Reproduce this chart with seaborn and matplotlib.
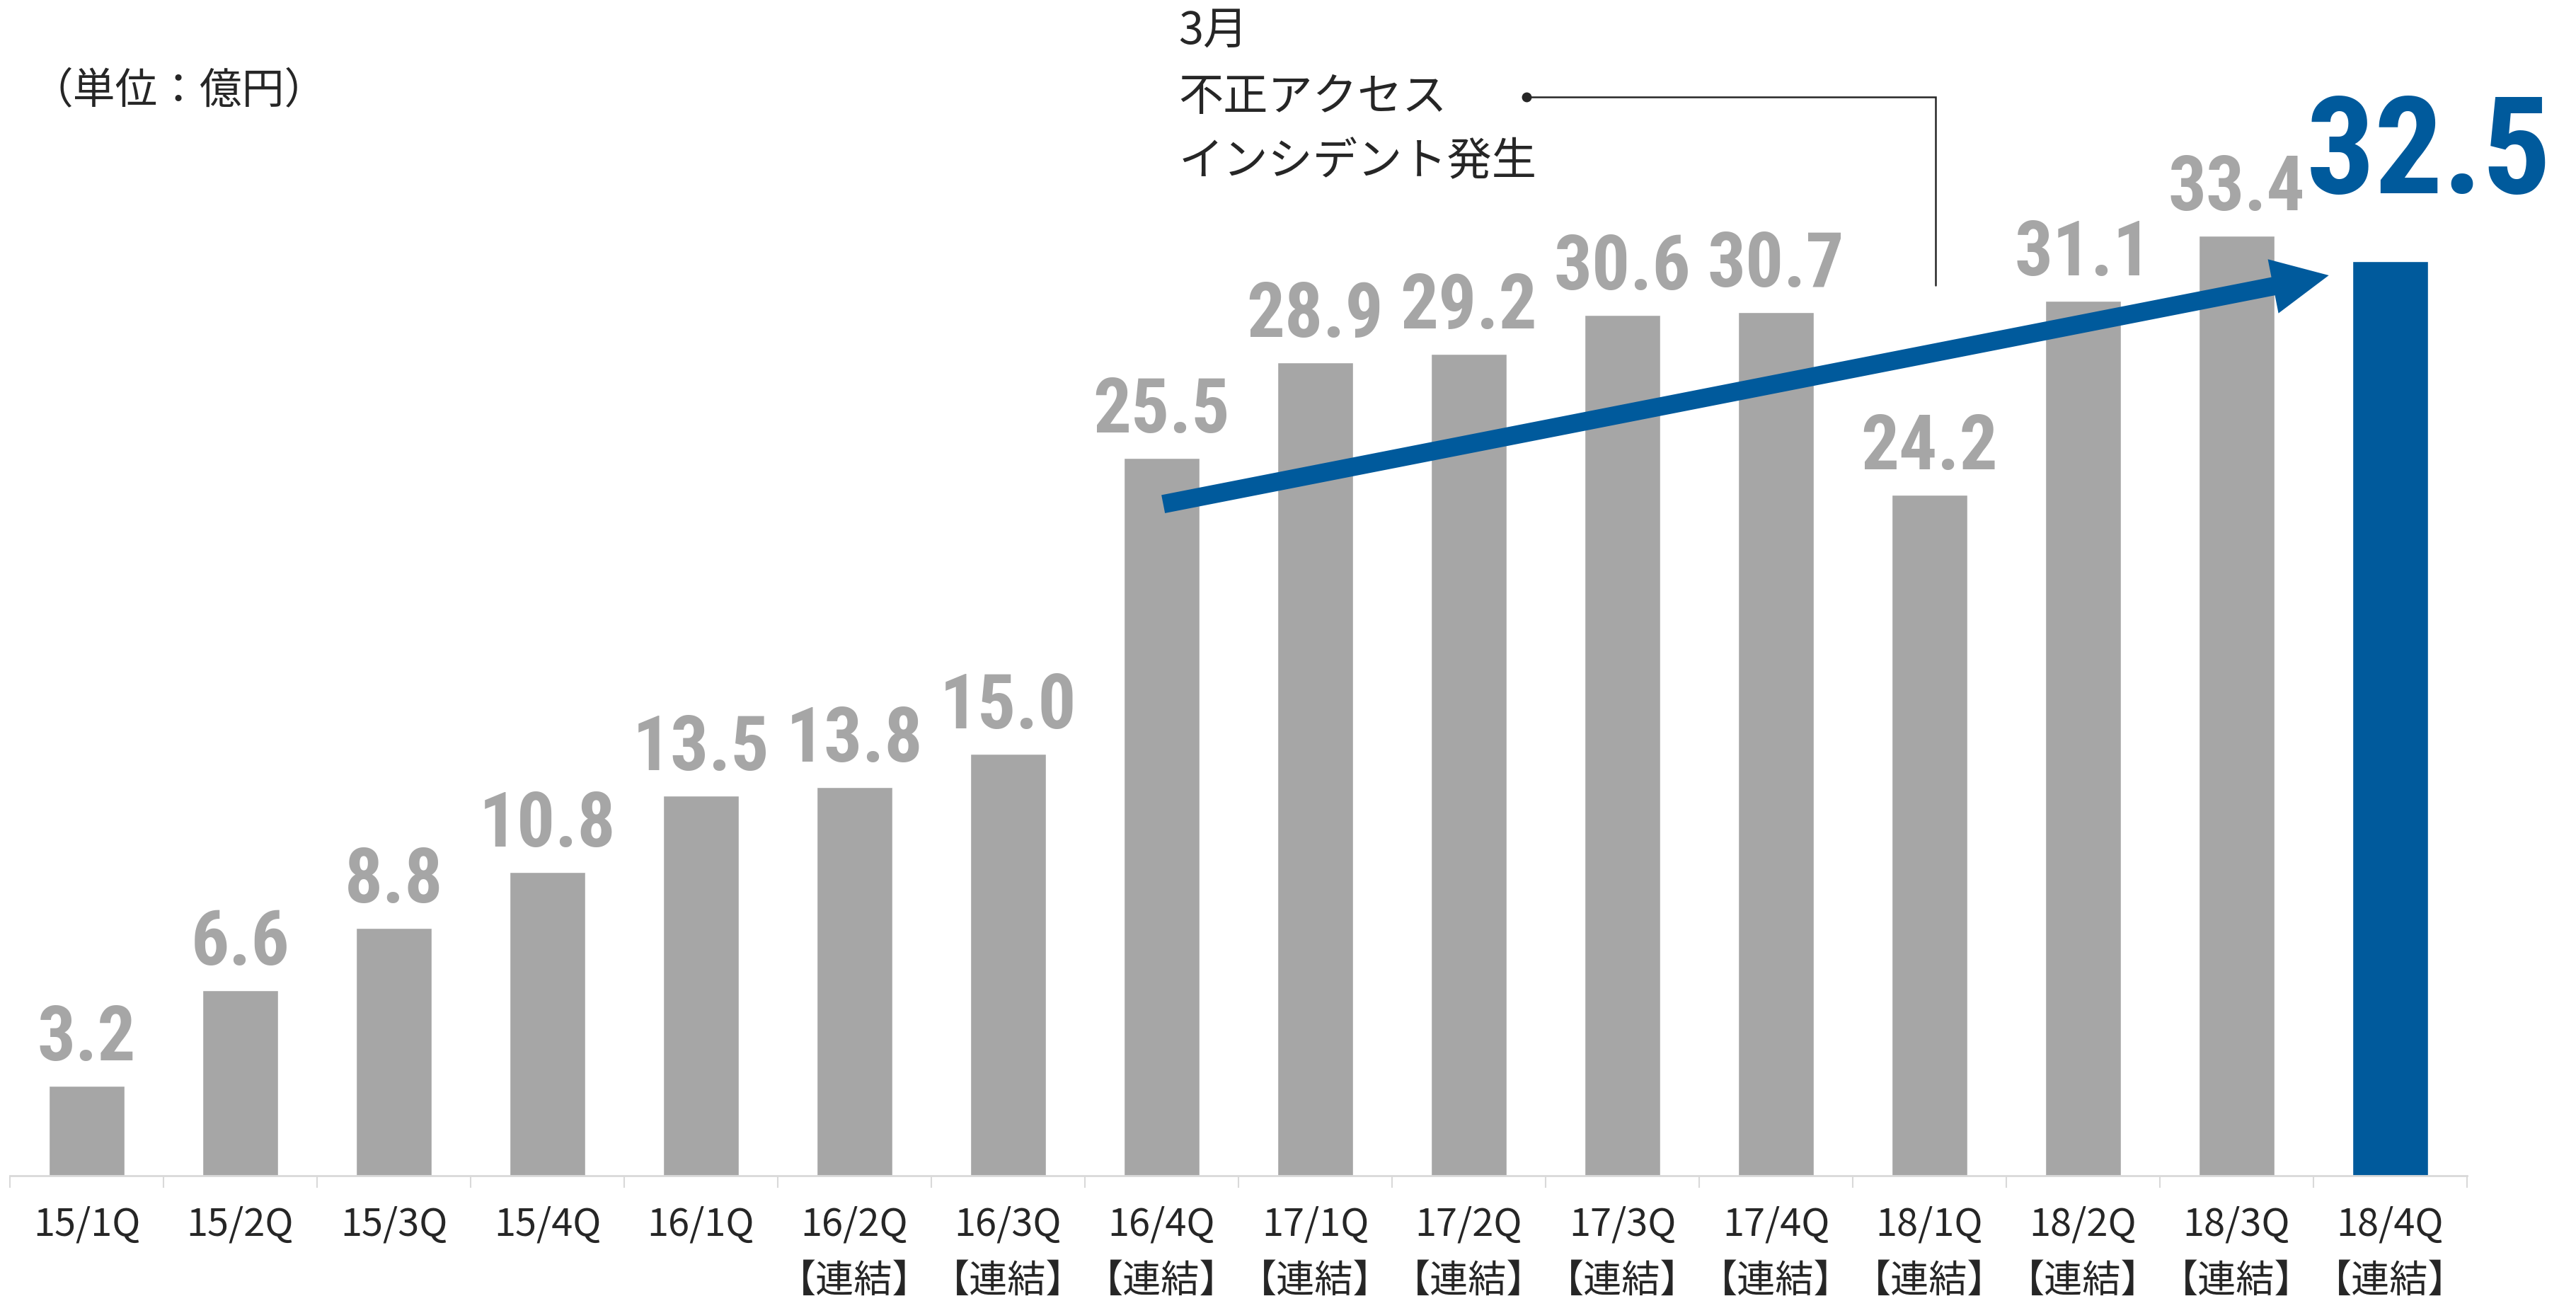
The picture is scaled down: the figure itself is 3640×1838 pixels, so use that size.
import matplotlib
matplotlib.use("Agg")
import matplotlib.pyplot as plt
import seaborn as sns
import numpy as np
import pandas as pd
from matplotlib.patches import FancyArrowPatch

# ---- data ----
quarters = ["15/1Q", "15/2Q", "15/3Q", "15/4Q", "16/1Q", "16/2Q", "16/3Q", "16/4Q",
            "17/1Q", "17/2Q", "17/3Q", "17/4Q", "18/1Q", "18/2Q", "18/3Q", "18/4Q"]
consolidated = [False, False, False, False, False, True, True, True,
                True, True, True, True, True, True, True, True]
values = [3.2, 6.6, 8.8, 10.8, 13.5, 13.8, 15.0, 25.5,
          28.9, 29.2, 30.6, 30.7, 24.2, 31.1, 33.4, 32.5]
unit_label = "（単位：億円）"
sub_label = "【連結】"
note_lines = ["3月", "不正アクセス", "インシデント発生"]

GRAY = "#A6A6A6"
BLUE = "#005A9C"
DARK = "#262626"
AXIS = "#D9D9D9"

sns.set_theme(style="white")
plt.rcParams["font.family"] = ["Noto Sans CJK JP", "DejaVu Sans"]

W, H, DPI = 3641, 1838, 100
fig = plt.figure(figsize=(W / DPI, H / DPI), dpi=DPI)
base_px = 1661
ax = fig.add_axes([14 / W, (H - base_px) / H, (3486 - 14) / W, base_px / H])

df = pd.DataFrame({"q": quarters, "v": values})
colors = [GRAY] * (len(values) - 1) + [BLUE]
sns.barplot(data=df, x="q", y="v", hue="q", palette=colors, order=quarters,
            hue_order=quarters, width=0.49, saturation=1, legend=False, ax=ax)

px_per_unit = 39.75
ax.set_xlim(-0.5, len(quarters) - 0.5)
ax.set_ylim(0, base_px / px_per_unit)

for s in ["top", "right", "left"]:
    ax.spines[s].set_visible(False)
ax.spines["bottom"].set_color(AXIS)
ax.spines["bottom"].set_linewidth(2)
ax.set_xlabel("")
ax.set_ylabel("")
ax.set_yticks([])
ax.set_xticks(np.arange(-0.5, len(quarters), 1.0))
ax.set_xticklabels([])
ax.tick_params(axis="x", length=12.5, width=1.5, color=AXIS, direction="out", bottom=True)

# category labels
xt = ax.get_xaxis_transform()
for i, (q, c) in enumerate(zip(quarters, consolidated)):
    ax.text(i, -69 / base_px, q, transform=xt, ha="center", va="center",
            fontsize=39, color=DARK)
    if c:
        ax.text(i, -149 / base_px, sub_label, transform=xt, ha="center", va="center",
                fontsize=39, color=DARK)

num_font = ["Roboto Condensed", "Liberation Sans Narrow", "Liberation Sans", "DejaVu Sans"]
# data labels
for i, v in enumerate(values[:-1]):
    ax.annotate(f"{v:.1f}", xy=(i, v), xytext=(0, 26), textcoords="offset points",
                ha="center", va="baseline", fontsize=77, fontweight="bold",
                color=GRAY, family=num_font)
last = len(values) - 1
ax.annotate(f"{values[last]:.1f}", xy=(last, values[last]), xytext=(39, 69),
            textcoords="offset points", ha="center", va="baseline", fontsize=138,
            fontweight="bold", color=BLUE, family=num_font, annotation_clip=False)

# trend arrow
arrow = FancyArrowPatch((7.01, 23.87), (14.60, 32.0),
                        arrowstyle="simple,head_length=1.03,head_width=1.0,tail_width=0.335",
                        mutation_scale=56, color=BLUE, lw=0, shrinkA=0, shrinkB=0, zorder=5)
ax.add_patch(arrow)

# incident note
ax.plot([9.375, 12.04, 12.04], [38.34, 38.34, 31.65], color=DARK, lw=1.8,
        solid_joinstyle="miter", clip_on=False)
ax.plot([9.375], [38.34], "o", color=DARK, ms=9, clip_on=False)
for k, (t, y) in enumerate(zip(note_lines, [40.7, 38.31, 36.03])):
    ax.text(7.11, y, t, ha="left", va="center", fontsize=45.5, color=DARK, clip_on=False)

# unit label
ax.text(-0.366, 38.54, unit_label, ha="left", va="center", fontsize=43, color=DARK,
        clip_on=False)

fig.savefig("out.png", dpi=DPI, facecolor="white")
